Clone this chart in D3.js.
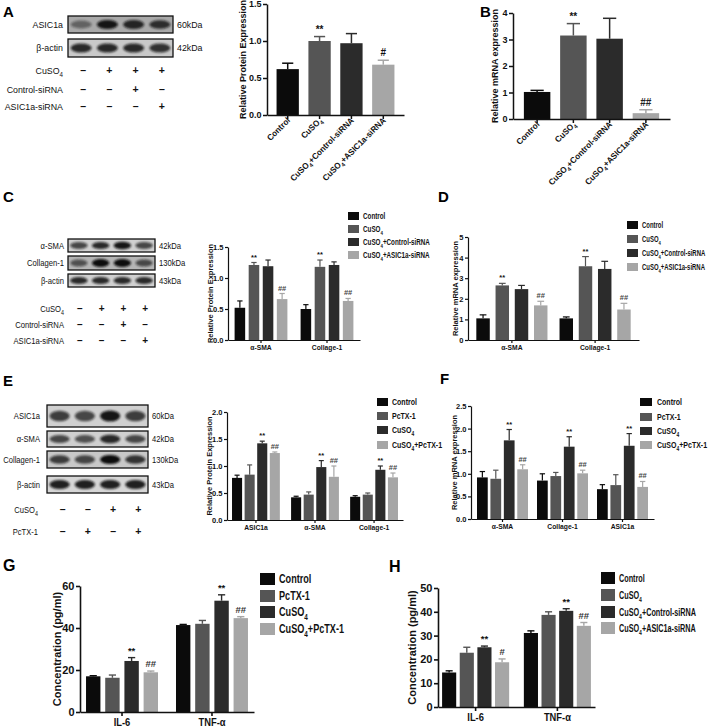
<!DOCTYPE html>
<html><head><meta charset="utf-8">
<script src="https://cdn.jsdelivr.net/npm/d3@7"></script>
<style>
body{margin:0;background:#fff;}
svg{display:block;font-family:"Liberation Sans",Arial,sans-serif;}
</style></head><body>
<svg id="fig" width="708" height="728"></svg>
<script>
// ================= DATA =================
const colors4 = ["#0b0b0b","#555555","#2b2b2b","#a6a6a6"];

// Panel A (protein, ASIC1a)
const aCategories = ["Control","CuSO_4","CuSO_4+Control-siRNA","CuSO_4+ASIC1a-siRNA"];
const aValues = [0.62,1.00,0.97,0.68];
const aErrTop = [0.70,1.06,1.10,0.74];
const aAnnot = ["","**","","#"];
const aTicks = [0,0.5,1.0,1.5];

// Panel B (mRNA, ASIC1a)
const bCategories = ["Control","CuSO_4","CuSO_4+Control-siRNA","CuSO_4+ASIC1a-siRNA"];
const bValues = [1.02,3.15,3.03,0.22];
const bErrTop = [1.08,3.60,3.80,0.35];
const bAnnot = ["","**","","##"];
const bTicks = [0,1,2,3,4];

// Panel C (protein)
const cGroups = ["α-SMA","Collage-1"];
const cSeries = ["Control","CuSO_4","CuSO_4+Control-siRNA","CuSO_4+ASIC1a-siRNA"];
const cValues = [[0.52,0.50],[1.21,1.18],[1.19,1.21],[0.66,0.63]];
const cErrTop = [[0.63,0.57],[1.25,1.29],[1.29,1.26],[0.75,0.67]];
const cAnnot = [["",""],["**","**"],["",""],["##","##"]];
const cTicks = [0,0.5,1.0,1.5];

// Panel D (mRNA)
const dGroups = ["α-SMA","Collage-1"];
const dSeries = ["Control","CuSO_4","CuSO_4+Control-siRNA","CuSO_4+ASIC1a-siRNA"];
const dValues = [[1.05,1.05],[2.65,3.58],[2.47,3.45],[1.68,1.48]];
const dErrTop = [[1.22,1.12],[2.75,4.05],[2.65,3.82],[1.88,1.78]];
const dAnnot = [["",""],["**","**"],["",""],["##","##"]];
const dTicks = [0,1,2,3,4,5];

// Panel E (protein, PcTX-1)
const eGroups = ["ASIC1a","α-SMA","Collage-1"];
const eSeries = ["Control","PcTX-1","CuSO_4","CuSO_4+PcTX-1"];
const eValues = [[0.78,0.42,0.43],[0.84,0.47,0.47],[1.42,0.98,0.93],[1.24,0.80,0.79]];
const eErrTop = [[0.83,0.44,0.45],[1.02,0.52,0.50],[1.46,1.10,1.00],[1.26,1.00,0.87]];
const eAnnot = [["","",""],["","",""],["**","**","**"],["##","##","##"]];
const eTicks = [0,0.5,1.0,1.5,2.0];

// Panel F (mRNA, PcTX-1)
const fGroups = ["α-SMA","Collage-1","ASIC1a"];
const fSeries = ["Control","PcTX-1","CuSO_4","CuSO_4+PcTX-1"];
const fValues = [[0.92,0.85,0.66],[0.89,0.95,0.75],[1.74,1.60,1.62],[1.10,1.01,0.71]];
const fErrTop = [[1.05,1.00,0.76],[1.08,1.03,0.98],[1.98,1.82,1.89],[1.20,1.08,0.83]];
const fAnnot = [["","",""],["","",""],["**","**","**"],["##","##","##"]];
const fTicks = [0,0.5,1.0,1.5,2.0,2.5];

// Panel G (cytokines, PcTX-1)
const gGroups = ["IL-6","TNF-α"];
const gSeries = ["Control","PcTX-1","CuSO_4","CuSO_4+PcTX-1"];
const gValues = [[17.0,41.4],[16.3,42.0],[24.3,53.0],[18.9,44.7]];
const gErrTop = [[17.3,41.7],[17.6,43.6],[25.9,55.8],[19.5,45.4]];
const gAnnot = [["",""],["",""],["**","**"],["##","##"]];
const gTicks = [0,20,40,60];

// Panel H (cytokines, siRNA)
const hGroups = ["IL-6","TNF-α"];
const hSeries = ["Control","CuSO_4","CuSO_4+Control-siRNA","CuSO_4+ASIC1a-siRNA"];
const hValues = [[14.5,31.1],[22.8,38.7],[25.1,40.4],[18.8,34.1]];
const hErrTop = [[15.2,32.0],[25.1,40.0],[25.6,41.3],[20.2,35.5]];
const hAnnot = [["",""],["",""],["**","**"],["#","##"]];
const hTicks = [0,10,20,30,40,50];

// Western blot panels (band intensity per lane)
const aBlotRows = ["ASIC1a","β-actin"];
const aBlotKDa = ["60kDa","42kDa"];
const aBlotBands = [[0.45,0.95,0.85,0.8],[0.85,0.85,0.85,0.8]];
const aCondRows = ["CuSO_4","Control-siRNA","ASIC1a-siRNA"];
const aCondSigns = [["–","+","+","+"],["–","–","+","–"],["–","–","–","+"]];

const cBlotRows = ["α-SMA","Collagen-1","β-actin"];
const cBlotKDa = ["42kDa","130kDa","43kDa"];
const cBlotBands = [[0.7,0.85,0.95,0.7],[0.6,1.0,1.0,0.65],[0.85,0.85,0.85,0.85]];
const cCondRows = ["CuSO_4","Control-siRNA","ASIC1a-siRNA"];
const cCondSigns = [["–","+","+","+"],["–","–","+","–"],["–","–","–","+"]];

const eBlotRows = ["ASIC1a","α-SMA","Collagen-1","β-actin"];
const eBlotKDa = ["60kDa","42kDa","130kDa","43kDa"];
const eBlotBands = [[0.75,0.7,0.95,0.75],[0.7,0.65,0.85,0.7],[0.75,0.7,1.0,0.8],[0.9,0.9,0.9,0.9]];
const eCondRows = ["CuSO_4","PcTX-1"];
const eCondSigns = [["–","–","+","+"],["–","+","–","+"]];

// ================= DRAWING =================
const svg = d3.select("#fig");
const defs = svg.append("defs");
defs.append("filter").attr("id","blur").attr("x","-20%").attr("y","-50%").attr("width","140%").attr("height","200%")
  .append("feGaussianBlur").attr("stdDeviation",1.1);

function rich(sel, str, fs){
  sel.text(null);
  const parts = str.split(/_(\d)/);
  let shifted = false;
  parts.forEach((p,i)=>{
    if(i%2===1){
      sel.append("tspan").attr("dy",fs*0.3).style("font-size",(fs*0.7)+"px").text(p);
      shifted = true;
    } else if(p){
      const t = sel.append("tspan").text(p);
      if(shifted){ t.attr("dy",-fs*0.3); shifted=false; }
    }
  });
}
// condensed text helper
function ctext(parent,x,y,str,o){
  const t = parent.append("text").attr("transform",`translate(${x},${y}) scale(${o.k||1},1)`)
    .attr("text-anchor",o.anchor||"start").attr("font-size",o.fs)
    .attr("font-weight",o.bold?"bold":"normal").attr("fill",o.fill||"#111");
  rich(t,str,o.fs);
  return t;
}

function letter(t,x,y,fs){
  svg.append("text").attr("x",x).attr("y",y).attr("font-size",fs).attr("font-weight","bold").text(t);
}

function chart(cfg){
  const g = svg.append("g");
  const nS = cfg.series.length;
  const x0 = d3.scaleBand().domain(cfg.groups).range(cfg.xRange).paddingInner(cfg.pIn).paddingOuter(cfg.pOut);
  const x1 = d3.scaleBand().domain(d3.range(nS)).range([0,x0.bandwidth()]).paddingInner(cfg.pIn1);
  const y = d3.scaleLinear().domain(cfg.yDomain).range(cfg.yRange);
  const bw = x1.bandwidth();
  cfg.groups.forEach((gn,gi)=>{
    for(let si=0; si<nS; si++){
      const v = cfg.values[si][gi], e = cfg.errTop[si][gi];
      const col = cfg.colorByGroup ? colors4[gi] : colors4[si];
      const bx = x0(gn)+x1(si), cx = bx+bw/2;
      g.append("line").attr("x1",cx).attr("x2",cx).attr("y1",y(v)).attr("y2",y(e))
        .attr("stroke",col).attr("stroke-width",cfg.ew);
      g.append("line").attr("x1",cx-bw*0.25).attr("x2",cx+bw*0.25).attr("y1",y(e)).attr("y2",y(e))
        .attr("stroke",col).attr("stroke-width",cfg.ew);
      g.append("rect").attr("x",bx).attr("y",y(v)).attr("width",bw).attr("height",y(0)-y(v)).attr("fill",col);
      const an = cfg.annot[si][gi];
      if(an){
        g.append("text").attr("x",cx).attr("y",y(e)-cfg.annGap).attr("text-anchor","middle")
          .attr("font-size",cfg.annFs).attr("font-weight","bold")
          .attr("fill",an.startsWith("#")?cfg.hashFill:"#111").text(an);
      }
    }
  });
  // y axis
  const ya = g.append("g").attr("transform",`translate(${cfg.xRange[0]},0)`)
    .call(d3.axisLeft(y).tickValues(cfg.ticks).tickFormat(d3.format(cfg.fmt)).tickSize(cfg.tick).tickSizeOuter(0).tickPadding(1.5));
  // x axis
  const xa = g.append("g").attr("transform",`translate(0,${cfg.yRange[0]})`)
    .call(d3.axisBottom(x0).tickSize(cfg.tick).tickSizeOuter(0).tickPadding(2));
  [ya,xa].forEach(a=>{
    a.select(".domain").attr("stroke-width",cfg.aw).attr("stroke","#111");
    a.selectAll(".tick line").attr("stroke-width",cfg.aw).attr("stroke","#111");
    a.selectAll("text").attr("font-family","Liberation Sans, Arial, sans-serif").attr("font-weight","bold").attr("fill","#111");
  });
  ya.selectAll("text").attr("font-size",cfg.tickFs);
  xa.selectAll("text").attr("font-size",cfg.labFs);
  if(cfg.colorByGroup){
    xa.selectAll("text").attr("text-anchor","end").attr("dy",0)
      .attr("transform",`translate(3,${cfg.tick+2}) rotate(-45) scale(0.95,1)`)
      .attr("y",0).attr("x",0)
      .each(function(d){ rich(d3.select(this), d, cfg.labFs); });
  } else {
    xa.selectAll("text").attr("transform",`scale(${cfg.labK},1)`)
      .each(function(d){ rich(d3.select(this), d, cfg.labFs); });
  }
  // y label
  const my = (cfg.yRange[0]+cfg.yRange[1])/2;
  g.append("text").attr("transform",`translate(${cfg.yLabelX},${my}) rotate(-90)`)
    .attr("text-anchor","middle").attr("font-size",cfg.yLabFs).attr("font-weight","bold").attr("fill","#111").text(cfg.yLabel);
  // legend
  if(cfg.legend){
    const L = cfg.legend;
    cfg.series.forEach((s,si)=>{
      const yy = L.ys[si];
      g.append("rect").attr("x",L.x).attr("y",yy-L.h/2).attr("width",L.w).attr("height",L.h).attr("fill",colors4[si]);
      ctext(g, L.x+L.w+L.gap, yy+L.fs*0.35, s, {fs:L.fs, k:L.k, bold:true});
    });
  }
}

function blot(cfg){
  const g = svg.append("g");
  const lanes = d3.scaleBand().domain(d3.range(4)).range([cfg.x0,cfg.x1]);
  cfg.rows.forEach((r,ri)=>{
    const [y0,y1] = cfg.ys[ri];
    g.append("rect").attr("x",cfg.x0).attr("y",y0).attr("width",cfg.x1-cfg.x0).attr("height",y1-y0)
      .attr("fill",cfg.bg[ri]).attr("stroke","#111").attr("stroke-width",1.3);
    const cy = (y0+y1)/2;
    cfg.bands[ri].forEach((v,li)=>{
      const cx = lanes(li)+lanes.bandwidth()/2;
      g.append("ellipse").attr("cx",cx).attr("cy",cy).attr("rx",lanes.bandwidth()*0.4).attr("ry",(y1-y0)*0.2+v*1.2)
        .attr("fill","#111").attr("opacity",v).attr("filter","url(#blur)");
    });
    ctext(g, cfg.labX, cy+3.2, r, {fs:cfg.fs, k:cfg.k, anchor:"end"});
    ctext(g, cfg.x1+4, cy+3.2, cfg.kda[ri], {fs:cfg.fs, k:cfg.k});
  });
  cfg.conds.forEach((c,ci)=>{
    const yy = cfg.condYs[ci];
    ctext(g, cfg.condLabX, yy+3, c, {fs:cfg.fs, k:cfg.k, anchor:"end"});
    cfg.signs[ci].forEach((s,li)=>{
      g.append("text").attr("x",lanes(li)+lanes.bandwidth()/2+cfg.signDx).attr("y",yy+3).attr("text-anchor","middle")
        .attr("font-size",cfg.fs+1).attr("font-weight","bold").attr("fill","#111").text(s);
    });
  });
}

// ---------- Panel letters ----------
letter("A",3,17,15); letter("B",480,17,15);
letter("C",3,202,15); letter("D",438,202,15);
letter("E",3,386,15); letter("F",440,384,15);
letter("G",3,571,16); letter("H",389,572,16);

// ---------- Blots ----------
blot({x0:68,x1:173,ys:[[16,33],[39,57]],rows:aBlotRows,kda:aBlotKDa,bands:aBlotBands,bg:["#a9a9a9","#c9c9c9"],
  labX:63,fs:9.5,k:0.93,conds:aCondRows,condYs:[71,90,107],condLabX:63,signs:aCondSigns,signDx:2});
blot({x0:68,x1:155,ys:[[239,252],[256,270],[274,287]],rows:cBlotRows,kda:cBlotKDa,bands:cBlotBands,bg:["#d0d0d0","#b5b5b5","#d0d0d0"],
  labX:64,fs:9,k:0.85,conds:cCondRows,condYs:[309,325,341],condLabX:64,signs:cCondSigns,signDx:1});
blot({x0:47,x1:148,ys:[[405,427],[431,447],[451,468],[476,493]],rows:eBlotRows,kda:eBlotKDa,bands:eBlotBands,bg:["#d0d0d0","#d0d0d0","#c8c8c8","#d6d6d6"],
  labX:40,fs:9.5,k:0.8,conds:eCondRows,condYs:[510,532],condLabX:38,signs:eCondSigns,signDx:3});

// ---------- Charts ----------
chart({groups:aCategories,series:["v"],values:[aValues],errTop:[aErrTop],annot:[aAnnot],colorByGroup:true,
  xRange:[267,404],pIn:0.3,pOut:0.3,pIn1:0,yDomain:[0,1.5],yRange:[115,4],ticks:aTicks,fmt:".1f",
  tick:4,aw:1.5,ew:1.5,tickFs:9,labFs:8.5,yLabel:"Relative Protein Expression",yLabelX:246,yLabFs:9,annFs:10,annGap:4,hashFill:"#111"});

chart({groups:bCategories,series:["v"],values:[bValues],errTop:[bErrTop],annot:[bAnnot],colorByGroup:true,
  xRange:[513,670],pIn:0.27,pOut:0.3,pIn1:0,yDomain:[0,4],yRange:[119,13],ticks:bTicks,fmt:"d",
  tick:4,aw:1.5,ew:1.5,tickFs:9,labFs:8.5,yLabel:"Relative mRNA expression",yLabelX:498,yLabFs:9,annFs:10,annGap:4,hashFill:"#222"});

chart({groups:cGroups,series:cSeries,values:cValues,errTop:cErrTop,annot:cAnnot,labK:0.9,
  xRange:[228,360],pIn:0.2,pOut:0.1,pIn1:0.25,yDomain:[0,1.5],yRange:[340,247],ticks:cTicks,fmt:".1f",
  tick:3,aw:1.2,ew:1.2,tickFs:7.5,labFs:7.5,yLabel:"Relative Protein Expression",yLabelX:213,yLabFs:7.5,annFs:7.5,annGap:3,hashFill:"#444",
  legend:{x:348,ys:[216,229,242,255],w:11,h:8,gap:4,fs:8.5,k:0.74}});

chart({groups:dGroups,series:dSeries,values:dValues,errTop:dErrTop,annot:dAnnot,labK:0.9,
  xRange:[468,639],pIn:0.145,pOut:0.1,pIn1:0.3,yDomain:[0,5],yRange:[340,237],ticks:dTicks,fmt:"d",
  tick:3,aw:1.2,ew:1.2,tickFs:7.5,labFs:7.5,yLabel:"Relative mRNA expression",yLabelX:458,yLabFs:7.5,annFs:7.5,annGap:3,hashFill:"#444",
  legend:{x:627,ys:[225,239,253,267],w:11,h:8,gap:4,fs:8.5,k:0.7}});

chart({groups:eGroups,series:eSeries,values:eValues,errTop:eErrTop,annot:eAnnot,labK:0.9,
  xRange:[227,403],pIn:0.19,pOut:0.085,pIn1:0.2,yDomain:[0,2.0],yRange:[520,412],ticks:eTicks,fmt:".1f",
  tick:3,aw:1.2,ew:1.2,tickFs:7.5,labFs:7.5,yLabel:"Relative Protein Expression",yLabelX:212,yLabFs:7.5,annFs:7.5,annGap:3,hashFill:"#444",
  legend:{x:377,ys:[402,416,430,445],w:11,h:8,gap:4,fs:9,k:0.78}});

chart({groups:fGroups,series:fSeries,values:fValues,errTop:fErrTop,annot:fAnnot,labK:0.9,
  xRange:[471,654],pIn:0.15,pOut:0.1,pIn1:0.2,yDomain:[0,2.5],yRange:[519,406],ticks:fTicks,fmt:".1f",
  tick:3,aw:1.2,ew:1.2,tickFs:7.5,labFs:7.5,yLabel:"Relative mRNA expression",yLabelX:457,yLabFs:7.5,annFs:7.5,annGap:3,hashFill:"#444",
  legend:{x:640,ys:[402,417,431,445],w:12,h:8,gap:5,fs:9,k:0.78}});

chart({groups:gGroups,series:gSeries,values:gValues,errTop:gErrTop,annot:gAnnot,labK:0.85,
  xRange:[80,254],pIn:0.2,pOut:0.067,pIn1:0.25,yDomain:[0,60],yRange:[712,586],ticks:gTicks,fmt:"d",
  tick:4,aw:1.6,ew:1.4,tickFs:11,labFs:11,yLabel:"Concentration (pg/ml)",yLabelX:61,yLabFs:11,annFs:9.5,annGap:4,hashFill:"#333",
  legend:{x:260,ys:[579,596,612,629],w:15,h:12,gap:4,fs:12,k:0.76}});

chart({groups:hGroups,series:hSeries,values:hValues,errTop:hErrTop,annot:hAnnot,labK:0.85,
  xRange:[438,595],pIn:0.18,pOut:0.05,pIn1:0.2,yDomain:[0,50],yRange:[707,588],ticks:hTicks,fmt:"d",
  tick:4,aw:1.6,ew:1.4,tickFs:11,labFs:11,yLabel:"Concentration (pg/ml)",yLabelX:416,yLabFs:11,annFs:9.5,annGap:4,hashFill:"#333",
  legend:{x:601,ys:[578,595,612,628],w:14,h:12,gap:4,fs:11,k:0.66}});
</script>
</body></html>
